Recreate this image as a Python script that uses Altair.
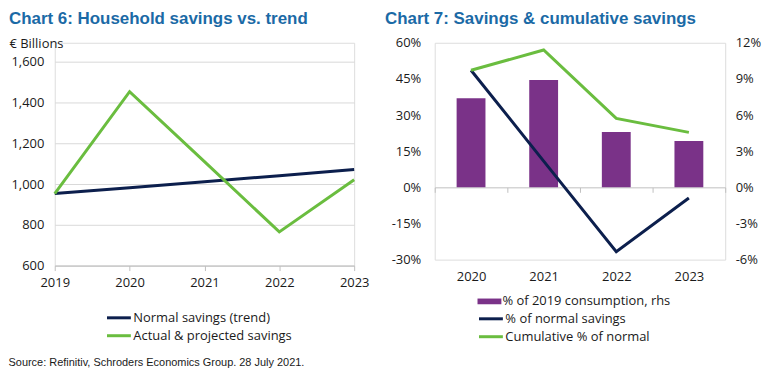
import altair as alt
import pandas as pd

# ---------------- data ----------------
years6 = ["2019", "2020", "2021", "2022", "2023"]
normal_savings = [953, 982, 1011, 1041, 1071]
actual_savings = [953, 1453, 1110, 765, 1021]
series6 = ["Normal savings (trend)", "Actual & projected savings"]

years7 = ["2020", "2021", "2022", "2023"]
pct_2019_consumption = [7.4, 8.9, 4.6, 3.85]      # rhs
pct_normal_savings = [48.6, 10.9, -26.7, -4.4]    # lhs
cumulative_pct_normal = [48.6, 57.0, 28.6, 22.8]  # lhs
bar_series = ["% of 2019 consumption, rhs"]
series7 = ["% of normal savings", "Cumulative % of normal"]

y6_ticks = [600, 800, 1000, 1200, 1400, 1600]
y7_left_ticks = [-30, -15, 0, 15, 30, 45, 60]
y7_right_ticks = [-6, -3, 0, 3, 6, 9, 12]

# ---------------- styles ----------------
NAVY = "#0c1f4d"
GREEN = "#6abd3f"
PURPLE = "#7a3288"
BLUE = "#1b6aa6"
GRID = "#d9d9d9"
AXIS = "#bfbfbf"
FONT = "Open Sans"
TXT = "#1a1a1a"
LINE_SYMBOL = "M-2,0H2"   # long thin stroke symbol

df6 = pd.DataFrame({
    "year": years6 * 2,
    "value": normal_savings + actual_savings,
    "series": [series6[0]] * len(years6) + [series6[1]] * len(years6),
})

# chart 6 plot area shares its top with chart 7; its y range starts 19px lower
W6, H6 = 301, 224
chart6 = alt.Chart(df6).mark_line(strokeWidth=3).encode(
    x=alt.X("year:O", scale=alt.Scale(type="point", padding=0),
            axis=alt.Axis(title=None, labelAngle=0, domainColor=AXIS, tickColor=AXIS,
                          tickSize=5, labelPadding=6, grid=False, labelFont=FONT,
                          labelFontSize=13, labelColor=TXT)),
    y=alt.Y("value:Q", scale=alt.Scale(domain=[600, 1600], nice=False, zero=False,
                                       range=[H6, 19]),
            axis=alt.Axis(values=y6_ticks, format=",.0f", title="€ Billions", titleAngle=0,
                          titleX=-46, titleY=5, titleAlign="left", titleBaseline="alphabetic",
                          titleFont=FONT, titleFontSize=13, titleFontWeight="normal", titleColor=TXT,
                          ticks=False, domain=False, gridColor=GRID, labelPadding=11,
                          labelFont=FONT, labelFontSize=13, labelColor=TXT)),
    stroke=alt.Stroke("series:N", scale=alt.Scale(domain=series6, range=[NAVY, GREEN]),
                      legend=alt.Legend(title=None, orient="none", legendX=57, legendY=269,
                                        symbolType=LINE_SYMBOL, symbolSize=144, symbolStrokeWidth=3,
                                        labelFont=FONT, labelFontSize=13, labelColor=TXT,
                                        labelOffset=7, rowPadding=3, padding=0, labelLimit=300)),
    order=alt.Order("series:N", sort="descending"),
).properties(
    width=W6, height=H6,
    title=alt.TitleParams("Chart 6: Household savings vs. trend", anchor="start", frame="group",
                          dx=-46, offset=10, font="Liberation Sans", fontSize=17,
                          fontWeight="bold", color=BLUE),
)

df7b = pd.DataFrame({"year": years7, "value": pct_2019_consumption,
                     "series": bar_series * len(years7)})
df7l = pd.DataFrame({
    "year": years7 * 2,
    "value": pct_normal_savings + cumulative_pct_normal,
    "series": [series7[0]] * len(years7) + [series7[1]] * len(years7),
})

W7, H7 = 292, 218
x7 = alt.X("year:N", scale=alt.Scale(paddingInner=0, paddingOuter=0),
           axis=alt.Axis(title=None, labelAngle=0, domainColor=AXIS, tickColor=AXIS,
                         tickBand="extent", tickSize=5, offset=-H7 * 30 / 90, labelPadding=79,
                         grid=False, labelFont=FONT, labelFontSize=13, labelColor=TXT))

bars = alt.Chart(df7b).mark_bar(size=29).encode(
    x=x7,
    y=alt.Y("value:Q", scale=alt.Scale(domain=[-6, 12], nice=False),
            axis=alt.Axis(orient="right", values=y7_right_ticks, labelExpr="datum.value + '%'",
                          title=None, grid=False, ticks=False, domain=False, labelPadding=10,
                          labelFont=FONT, labelFontSize=13, labelColor=TXT)),
    fill=alt.Fill("series:N", scale=alt.Scale(domain=bar_series, range=[PURPLE]),
                  legend=alt.Legend(title=None, orient="none", legendX=43, legendY=248,
                                    symbolType="M-1,-0.24H1V0.24H-1Z", symbolSize=576,
                                    symbolStrokeWidth=0, labelFont=FONT, labelFontSize=13,
                                    labelColor=TXT, labelOffset=1, padding=0, labelLimit=300)),
)

lines = alt.Chart(df7l).mark_line(strokeWidth=3).encode(
    x=x7,
    y=alt.Y("value:Q", scale=alt.Scale(domain=[-30, 60], nice=False),
            axis=alt.Axis(orient="left", values=y7_left_ticks, labelExpr="datum.value + '%'",
                          title=None, gridColor=GRID, ticks=False, domain=False, labelPadding=14,
                          labelFont=FONT, labelFontSize=13, labelColor=TXT)),
    stroke=alt.Stroke("series:N", scale=alt.Scale(domain=series7, range=[NAVY, GREEN]),
                      legend=alt.Legend(title=None, orient="none", legendX=49, legendY=270,
                                        symbolType=LINE_SYMBOL, symbolSize=144, symbolStrokeWidth=3,
                                        labelFont=FONT, labelFontSize=13, labelColor=TXT,
                                        labelOffset=7, rowPadding=3, padding=0, labelLimit=300)),
)

chart7 = alt.layer(bars, lines).resolve_scale(y="independent", fill="independent",
                                              stroke="independent").properties(
    width=W7, height=H7,
    title=alt.TitleParams("Chart 7: Savings & cumulative savings", anchor="start", frame="group",
                          dx=-50, offset=9, font="Liberation Sans", fontSize=17,
                          fontWeight="bold", color=BLUE),
)

chart = alt.concat(chart6, chart7, columns=2, spacing=14).properties(
    title=alt.TitleParams("Source: Refinitiv, Schroders Economics Group. 28 July 2021.",
                          orient="bottom", anchor="start", frame="bounds", offset=12,
                          font="Liberation Sans", fontSize=11, fontWeight="normal",
                          color=TXT),
    padding=0,
).configure_view(stroke=None).configure(background="white")

chart.save("out.html", embed_options={"renderer": "svg", "actions": False})
